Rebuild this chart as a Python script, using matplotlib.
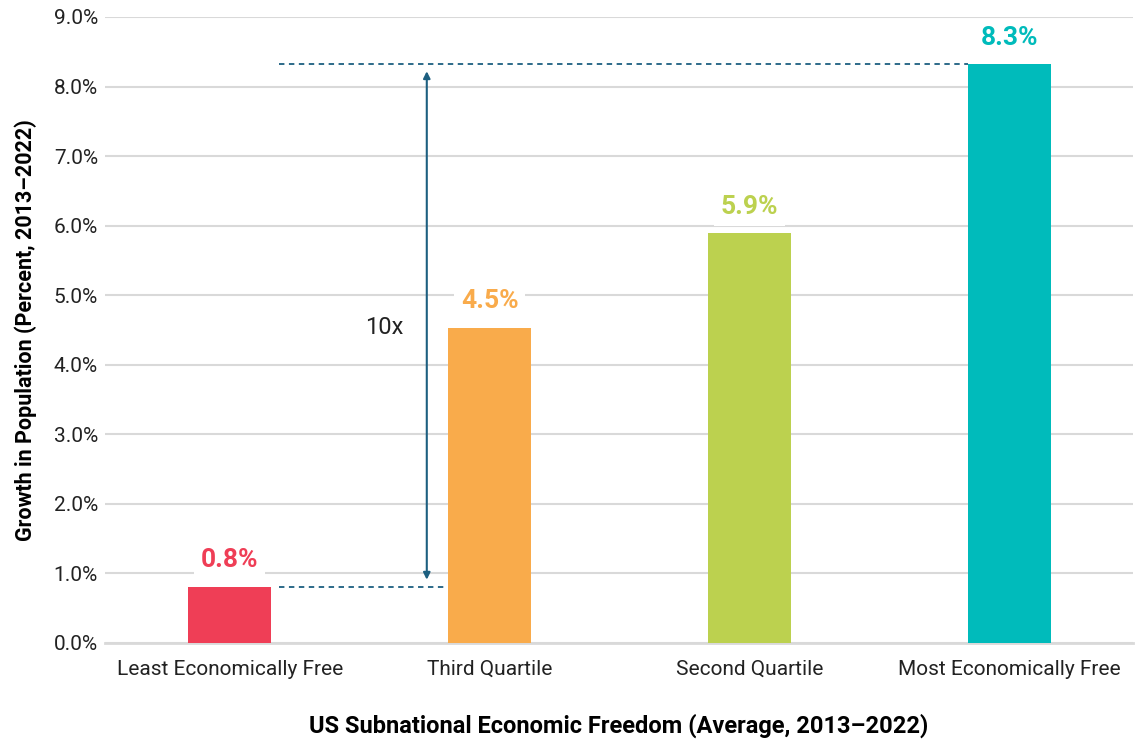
import matplotlib.pyplot as plt

categories = ['Least Economically Free', 'Third Quartile', 'Second Quartile', 'Most Economically Free']
growth = [0.81, 4.53, 5.89, 8.32]
colors = ['#ef3e56', '#f9ab4b', '#bcd14f', '#00bbbb']
yticks = [0, 1, 2, 3, 4, 5, 6, 7, 8, 9]

plt.rcParams['font.family'] = ['Roboto', 'DejaVu Sans']

fig = plt.figure(figsize=(11.36, 7.44), dpi=100)
ax = fig.add_axes([105 / 1136, 1 - 643 / 744, 1028 / 1136, 626 / 744])

x = list(range(len(categories)))
ax.bar(x, growth, width=0.32, color=colors, zorder=3)

# value labels with white box that breaks the gridlines
for xi, v, c in zip(x, growth, colors):
    ax.text(xi, v + 0.38, f'{v:.1f}%', ha='center', va='center', fontsize=19,
            fontweight='bold', color=c, zorder=4,
            bbox=dict(facecolor='white', edgecolor='none', pad=5))

# 10x annotation
line_c = '#1d5f80'
ax.plot([0.19, 0.83], [growth[0], growth[0]], ls=(0, (3, 2.5)), color=line_c, lw=1.3, zorder=3)
ax.plot([0.19, 3 - 0.16], [growth[3], growth[3]], ls=(0, (3, 2.5)), color=line_c, lw=1.3, zorder=3)
ax.annotate('', xy=(0.758, growth[3] - 0.1), xytext=(0.758, growth[0] + 0.1),
            arrowprops=dict(arrowstyle='<|-|>', color=line_c, lw=1.5,
                            mutation_scale=10, shrinkA=0, shrinkB=0), zorder=3)
ax.text(0.596, 4.53, '10x', ha='center', va='center', fontsize=17, color='#222222')

ax.set_xlim(-0.48, 3.475)
ax.set_ylim(0, 9)
ax.set_yticks(yticks)
ax.set_yticklabels([f'{t:.1f}%' for t in yticks])
ax.set_xticks(x)
ax.set_xticklabels(categories)
ax.tick_params(axis='both', length=0, labelsize=15, labelcolor='#222222')
ax.tick_params(axis='x', pad=12)
ax.tick_params(axis='y', pad=5)

ax.grid(axis='y', color='#d9d9d9', lw=1.5, zorder=0)
for s in ['top', 'right', 'left']:
    ax.spines[s].set_visible(False)
ax.spines['bottom'].set_color('#d9d9d9')
ax.spines['bottom'].set_linewidth(2)

ax.set_xlabel('US Subnational Economic Freedom (Average, 2013–2022)', fontsize=17,
              fontweight='bold', labelpad=25)
ax.set_ylabel('Growth in Population (Percent, 2013–2022)', fontsize=15.5,
              fontweight='bold', labelpad=12)

fig.savefig('out.png', dpi=100)
